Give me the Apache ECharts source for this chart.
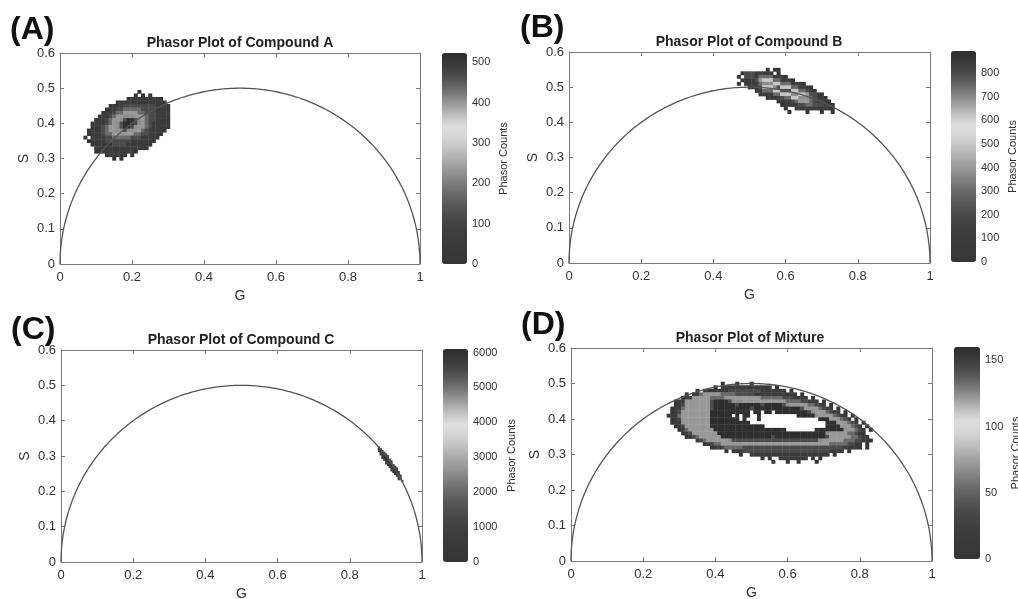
<!DOCTYPE html>
<html>
<head>
<meta charset="utf-8">
<title>Phasor plots</title>
<script src="https://cdn.jsdelivr.net/npm/echarts@6/dist/echarts.min.js"></script>
<style>
  html, body { margin: 0; padding: 0; background: #fff; }
  #chart { width: 1018px; height: 599px; }
</style>
</head>
<body>
<div id="chart"></div>
<script>
// axis ticks
const gTicks = [0, 0.2, 0.4, 0.6, 0.8, 1];
const sTicks = [0, 0.1, 0.2, 0.3, 0.4, 0.5, 0.6];

const panelTags = ['(A)', '(B)', '(C)', '(D)'];
const panelTitles = ['Phasor Plot of Compound A', 'Phasor Plot of Compound B',
  'Phasor Plot of Compound C', 'Phasor Plot of Mixture'];
const countMax = [523, 893, 6100, 160];
const countTickStep = [100, 100, 1000, 50];
const cellSize = [0.01, 0.01, 0.005, 0.01];

// phasor counts: [S, G of first cell, levels 0-9 of max ('.' = no count)]
const densityA = [
  [0.49, 0.22, '0'],
  [0.48, 0.21, '0.0.0'],
  [0.47, 0.19, '0111111110'],
  [0.46, 0.16, '01111111111110'],
  [0.45, 0.14, '01112222222221110'],
  [0.44, 0.13, '011223333322221110'],
  [0.43, 0.12, '0112334444332221111'],
  [0.42, 0.11, '01123447774443221111'],
  [0.41, 0.10, '011234478998743221110'],
  [0.40, 0.09, '0111234789998743211110'],
  [0.39, 0.09, '0112344789987443211110'],
  [0.38, 0.08, '0111234477877443211110'],
  [0.37, 0.08, '011123344444433221110'],
  [0.36, 0.07, '0.1111223333322211110'],
  [0.35, 0.08, '0111122222221111110'],
  [0.34, 0.09, '01111122221111110'],
  [0.33, 0.10, '111111111111110'],
  [0.32, 0.10, '011111111110'],
  [0.31, 0.13, '011110.0'],
  [0.30, 0.15, '0.0']
];
const densityB = [
  [0.55, 0.55, '0.00'],
  [0.54, 0.48, '022211110.0'],
  [0.53, 0.47, '0.222133331110'],
  [0.52, 0.48, '011124555331110'],
  [0.51, 0.47, '0.01113777553331110'],
  [0.50, 0.50, '011255578555331110'],
  [0.49, 0.52, '01333558885533210'],
  [0.48, 0.53, '011133555775542210'],
  [0.47, 0.55, '01112335577732110'],
  [0.46, 0.58, '011123444321110'],
  [0.45, 0.59, '011112233222110'],
  [0.44, 0.60, '0..11111111100'],
  [0.43, 0.61, '0....0...0..0']
];
const densityC = [
  [0.325, 0.88, '1'],
  [0.320, 0.88, '12'],
  [0.315, 0.88, '191'],
  [0.310, 0.885, '191'],
  [0.305, 0.885, '1981'],
  [0.300, 0.89, '1981'],
  [0.295, 0.89, '1991'],
  [0.290, 0.895, '1991'],
  [0.285, 0.90, '1981'],
  [0.280, 0.90, '1891'],
  [0.275, 0.905, '1991'],
  [0.270, 0.91, '1981'],
  [0.265, 0.915, '1991'],
  [0.260, 0.915, '1981'],
  [0.255, 0.92, '1991'],
  [0.250, 0.925, '191'],
  [0.245, 0.93, '191'],
  [0.240, 0.935, '19'],
  [0.235, 0.935, '11'],
  [0.230, 0.945, '1']
];
const densityD = [
  [0.50, 0.42, '0...0...0'],
  [0.49, 0.40, '0.11111111111111.0'],
  [0.48, 0.35, '0.11111112222222221111111.0'],
  [0.47, 0.32, '0.11344444333322222111111111111.0'],
  [0.46, 0.31, '01144444333344444444443333332221111.0'],
  [0.45, 0.29, '0114444444899998777444444444444333322111.0'],
  [0.44, 0.29, '012444444489999998999999899999874444433211.0'],
  [0.43, 0.28, '011344444448999999999989999999999999844443211.0'],
  [0.42, 0.28, '0124444444499999999999.99.99.999999999874443211.0'],
  [0.41, 0.27, '011344444444999999.9.99..9..........99999744443211.0'],
  [0.40, 0.28, '0124444444499999999.9...9................999444321.0'],
  [0.39, 0.28, '0114444444499999999999.....................999444321.0'],
  [0.38, 0.29, '0124444444999999999999999.................9999444321.0'],
  [0.37, 0.30, '013444444499999999999999999999........99999999444321.0'],
  [0.36, 0.31, '012444444499999999999999999999999999999974444433210'],
  [0.35, 0.32, '012344444499999999999999899999999999999844444433211'],
  [0.34, 0.35, '1234444447888888888888888888888888744444433322110'],
  [0.33, 0.37, '0123344444444444444444444444444444433333221 1.0'],
  [0.32, 0.39, '011233333222222222222222222222222222211111.0'],
  [0.31, 0.43, '0.1112222222222222222222222221111.0'],
  [0.30, 0.47, '0..1111111111111111111111.0'],
  [0.29, 0.53, '0.0..11111111.0.0'],
  [0.28, 0.56, '0...0..0....0']
];
const densities = [densityA, densityB, densityC, densityD];

// jet colormap as it prints in grey: dark - light - dark
const grayRamp = ['#363636', '#383838', '#3a3a3a', '#3e3e3e', '#454545', '#505050', '#5e5e5e',
  '#707070', '#858585', '#9a9a9a', '#afafaf', '#c4c4c4', '#d6d6d6', '#dedede', '#c2c2c2',
  '#a0a0a0', '#7e7e7e', '#606060', '#484848', '#383838', '#2e2e2e'];

// page layout in pixels
const plotBoxes = [
  { left: 60, top: 53, width: 360, height: 211 },
  { left: 569, top: 52, width: 361, height: 211 },
  { left: 61, top: 350, width: 361, height: 212 },
  { left: 571, top: 348, width: 361, height: 213 }
];
const barBoxes = [
  { left: 442, top: 53, width: 25, height: 211 },
  { left: 951, top: 51, width: 25, height: 211 },
  { left: 443, top: 349, width: 25, height: 213 },
  { left: 954, top: 347, width: 26, height: 212 }
];
const barNameGap = [31, 31, 38, 30];
const tagPos = [[10, 30], [520, 28], [11, 330], [521, 325]];
const titlePos = [[240, 43], [749, 42], [241, 340], [750, 338]];

const font = '"Liberation Sans", Arial, sans-serif';
const boxLine = { color: '#7a7a7a', width: 1 };

function cellsOf(rows, step, max) {
  const out = [];
  rows.forEach(function (r) {
    const s = r[0], g0 = r[1], str = r[2].replace(/ /g, '');
    for (let i = 0; i < str.length; i++) {
      const c = str[i];
      if (c === '.') continue;
      out.push([+(g0 + i * step).toFixed(4), s, (+c) / 9 * max]);
    }
  });
  return out;
}

// universal semicircle
const circle = [];
for (let k = 0; k <= 240; k++) {
  const t = Math.PI * k / 240;
  circle.push([0.5 + 0.5 * Math.cos(t), 0.5 * Math.sin(t)]);
}

const grids = [], xAxes = [], yAxes = [], series = [], visualMaps = [], graphics = [];

for (let p = 0; p < 4; p++) {
  grids.push(Object.assign({ containLabel: false, outerBoundsMode: 'none' }, plotBoxes[p]));
  [false, true].forEach(function (top) {
    xAxes.push({
      type: 'value', gridIndex: p, position: top ? 'top' : 'bottom',
      min: gTicks[0], max: gTicks[gTicks.length - 1], interval: gTicks[1] - gTicks[0],
      axisLine: { show: true, onZero: false, lineStyle: boxLine },
      axisTick: { show: true, inside: true, length: 4, lineStyle: boxLine },
      axisLabel: { show: !top, margin: 7, fontSize: 13, color: '#333', fontFamily: font },
      splitLine: { show: false },
      name: top ? '' : 'G', nameLocation: 'middle', nameGap: 25,
      nameTextStyle: { fontSize: 14, color: '#333', fontFamily: font }
    });
    yAxes.push({
      type: 'value', gridIndex: p, position: top ? 'right' : 'left',
      min: sTicks[0], max: sTicks[sTicks.length - 1], interval: +(sTicks[1] - sTicks[0]).toFixed(2),
      axisLine: { show: true, onZero: false, lineStyle: boxLine },
      axisTick: { show: true, inside: true, length: 4, lineStyle: boxLine },
      axisLabel: { show: !top, margin: 5, fontSize: 13, color: '#333', fontFamily: font },
      splitLine: { show: false },
      name: top ? '' : 'S', nameLocation: 'middle', nameGap: 29,
      nameTextStyle: { fontSize: 14, color: '#333', fontFamily: font }
    });
  });

  const step = cellSize[p];
  series.push({
    type: 'custom', name: panelTitles[p], xAxisIndex: 2 * p, yAxisIndex: 2 * p,
    dimensions: ['G', 'S', 'count'], encode: { x: 0, y: 1 },
    data: cellsOf(densities[p], step, countMax[p]), clip: true, z: 2,
    renderItem: function (params, api) {
      const h = step / 2;
      const a = api.coord([api.value(0) - h, api.value(1) + h]);
      const b = api.coord([api.value(0) + h, api.value(1) - h]);
      return {
        type: 'rect',
        shape: { x: a[0], y: a[1], width: b[0] - a[0] + 0.4, height: b[1] - a[1] + 0.4 },
        style: { fill: api.visual('color') }
      };
    }
  });
  series.push({
    type: 'line', xAxisIndex: 2 * p, yAxisIndex: 2 * p, data: circle,
    showSymbol: false, symbol: 'none', silent: true, z: 3,
    lineStyle: { color: '#555', width: 1.3 }
  });

  visualMaps.push({
    type: 'continuous', seriesIndex: 2 * p, dimension: 2, min: 0, max: countMax[p],
    calculable: false, hoverLink: false, orient: 'vertical', padding: 0,
    left: barBoxes[p].left, top: barBoxes[p].top,
    itemWidth: barBoxes[p].width, itemHeight: barBoxes[p].height,
    inRange: { color: grayRamp }
  });

  graphics.push({
    type: 'text', x: tagPos[p][0], y: tagPos[p][1],
    style: { text: panelTags[p], font: 'bold 32px ' + font, fill: '#111', align: 'left', verticalAlign: 'middle' }
  });
  graphics.push({
    type: 'text', x: titlePos[p][0], y: titlePos[p][1],
    style: { text: panelTitles[p], font: 'bold 14px ' + font, fill: '#222', align: 'center', verticalAlign: 'middle' }
  });
}

// colour bar axes
for (let p = 0; p < 4; p++) {
  grids.push(Object.assign({ containLabel: false, outerBoundsMode: 'none' }, barBoxes[p]));
  xAxes.push({ type: 'value', gridIndex: 4 + p, show: false, min: 0, max: 1 });
  yAxes.push({
    type: 'value', gridIndex: 4 + p, position: 'right',
    min: 0, max: countMax[p], interval: countTickStep[p],
    axisLine: { show: false }, axisTick: { show: false }, splitLine: { show: false },
    axisLabel: {
      margin: 5, fontSize: 11, color: '#333', fontFamily: font, showMaxLabel: false,
      formatter: function (v) { return String(v); }
    },
    name: 'Phasor Counts', nameLocation: 'middle', nameGap: barNameGap[p],
    nameTextStyle: { fontSize: 11, color: '#333', fontFamily: font }
  });
}

const chart = echarts.init(document.getElementById('chart'));
chart.setOption({
  animation: false,
  backgroundColor: '#fff',
  textStyle: { fontFamily: font },
  grid: grids,
  xAxis: xAxes,
  yAxis: yAxes,
  visualMap: visualMaps,
  series: series,
  graphic: graphics
});
</script>
</body>
</html>
